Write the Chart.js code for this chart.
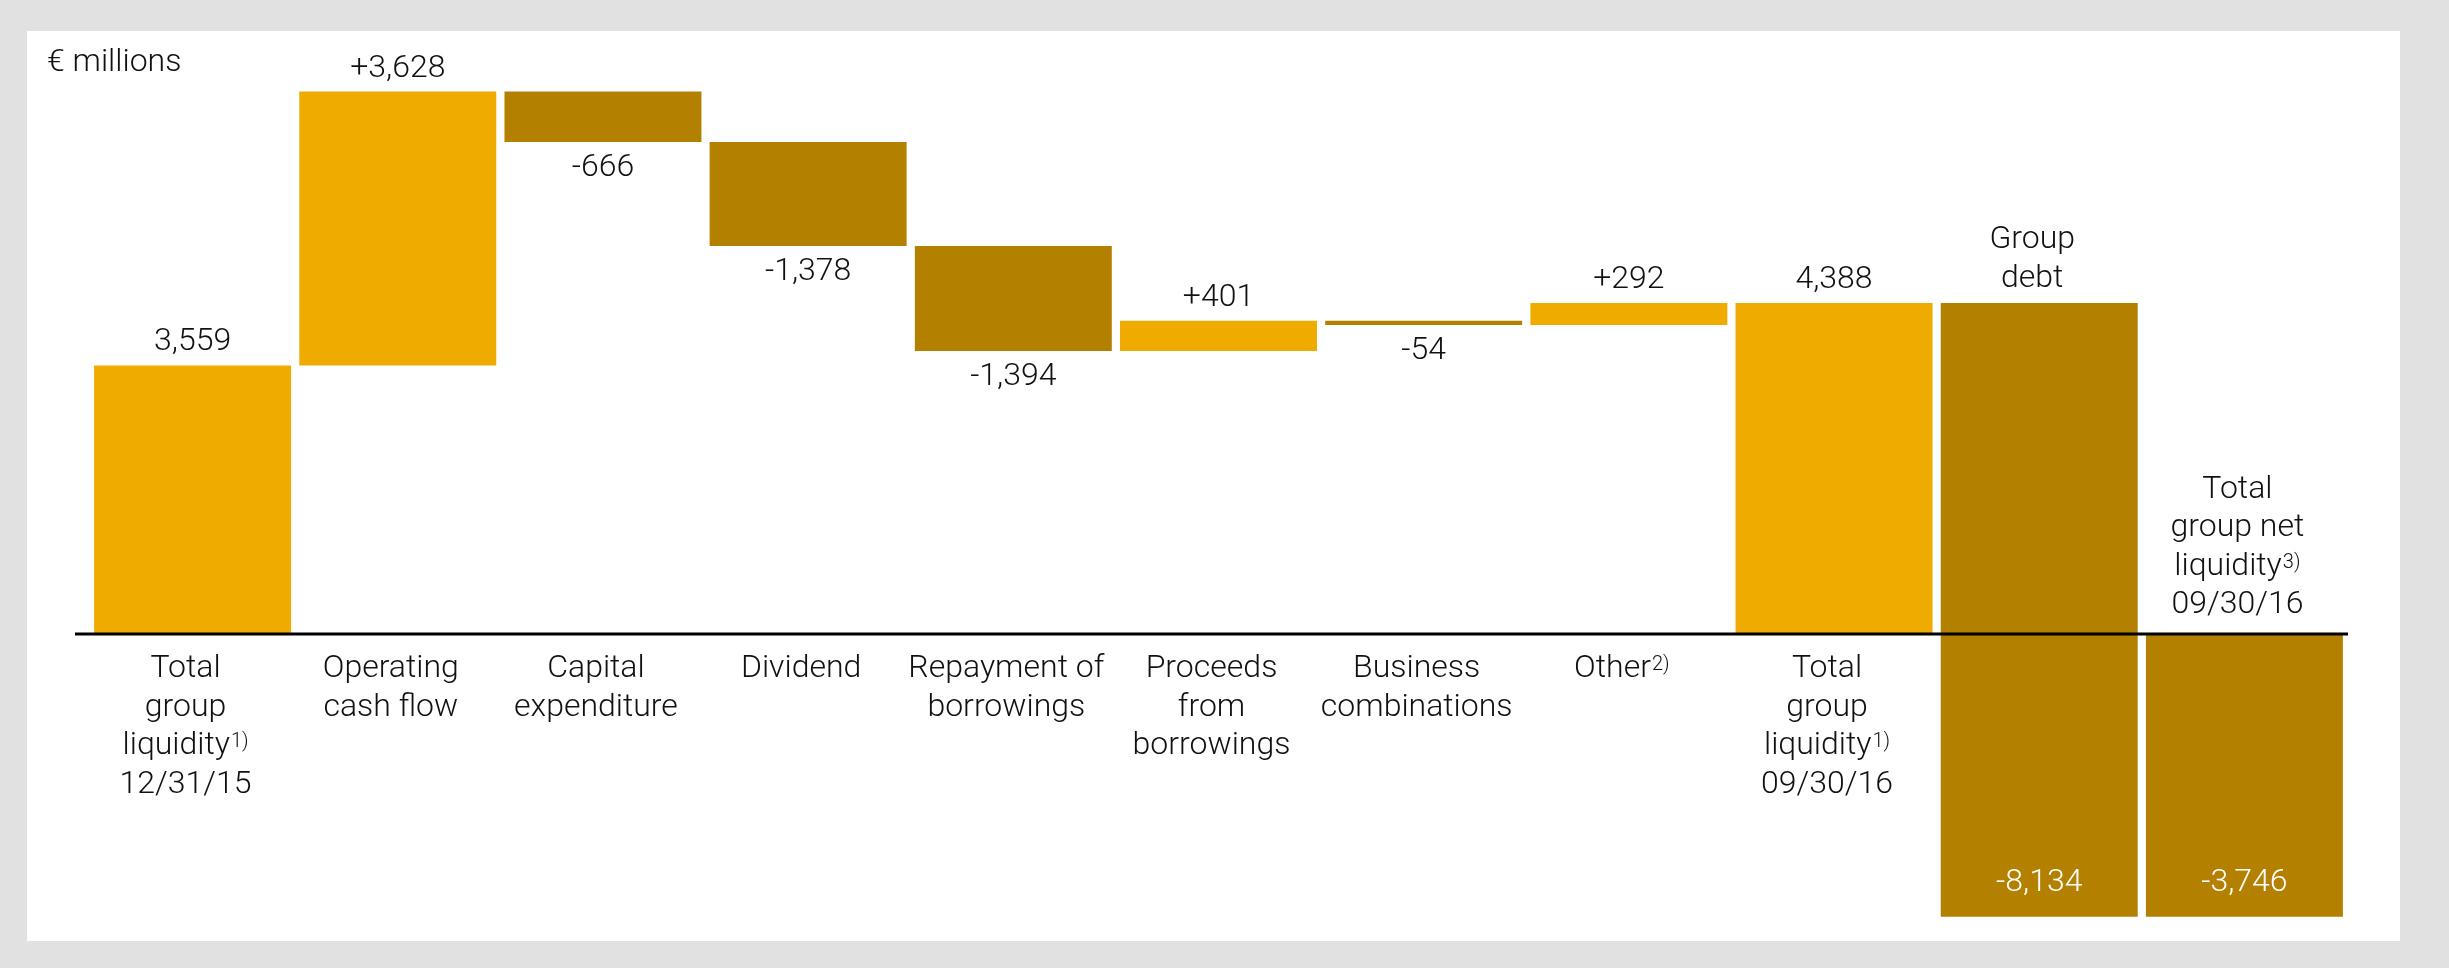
<!DOCTYPE html>
<html>
<head>
<meta charset="utf-8">
<script src="https://cdn.jsdelivr.net/npm/chart.js@4.4.0/dist/chart.umd.min.js"></script>
<style>
  html, body { margin: 0; padding: 0; background: #e1e1e1; }
  #panel { position: absolute; left: 27px; top: 31px; width: 2373px; height: 910px; background: #fff; }
</style>
</head>
<body>
<div id="panel"><canvas id="myChart" width="2373" height="910"></canvas></div>
<script>
// category labels, lines split; "^" starts a superscript
const categories = [
    ['Total', 'group', 'liquidity^1)', '12/31/15'],
    ['Operating', 'cash flow'],
    ['Capital', 'expenditure'],
    ['Dividend'],
    ['Repayment of', 'borrowings'],
    ['Proceeds', 'from', 'borrowings'],
    ['Business', 'combinations'],
    ['Other^2)'],
    ['Total', 'group', 'liquidity^1)', '09/30/16'],
    ['Group', 'debt'],
    ['Total', 'group net', 'liquidity^3)', '09/30/16']
];
const values = [3559, 3628, -666, -1378, -1394, 401, -54, 292, 4388, -8134, -3746];
// total = bar from zero, delta/debt = bar from the running sum
const barKinds = ['total', 'delta', 'delta', 'delta', 'delta', 'delta', 'delta', 'delta', 'total', 'debt', 'total'];
const unitLabel = '€ millions';

const LIGHT = '#efab00';
const DARK = '#b48000';
const FONT = '300 32px Roboto, "Open Sans", sans-serif';
const SUP_FONT = '300 20px Roboto, "Open Sans", sans-serif';
const LINE_H = 38.5;

// build floating bar ranges
let running = 0;
const ranges = values.map((v, i) => {
    if (barKinds[i] === 'total') {
        running = v;
        return [0, v];
    }
    const start = running;
    running += v;
    return [start, running];
});

function fmt(v, kind) {
    const s = Math.abs(v).toLocaleString('en-US');
    if (v < 0) return '-' + s;
    return kind === 'delta' ? '+' + s : s;
}

function drawLine(ctx, text, cx, baseline) {
    const parts = text.split('^');
    ctx.font = FONT;
    const wBase = ctx.measureText(parts[0]).width;
    let wSup = 0;
    if (parts[1]) {
        ctx.font = SUP_FONT;
        wSup = ctx.measureText(parts[1]).width + 1;
    }
    const left = cx - (wBase + wSup) / 2;
    ctx.textAlign = 'left';
    ctx.font = FONT;
    ctx.fillText(parts[0], left, baseline);
    if (parts[1]) {
        ctx.font = SUP_FONT;
        ctx.fillText(parts[1], left + wBase + 1, baseline - 7);
    }
}

const waterfallText = {
    id: 'waterfallText',
    afterDatasetsDraw(chart) {
        const { ctx, scales: { x, y } } = chart;
        const zeroY = y.getPixelForValue(0);
        ctx.save();

        // zero line
        ctx.strokeStyle = '#000';
        ctx.lineWidth = 3;
        ctx.beginPath();
        ctx.moveTo(x.left - 15, zeroY);
        ctx.lineTo(x.right + 1, zeroY);
        ctx.stroke();

        ctx.textBaseline = 'alphabetic';
        ctx.fillStyle = '#111';

        // unit
        ctx.font = FONT;
        ctx.textAlign = 'left';
        ctx.fillText(unitLabel, 20, 40);

        values.forEach((v, i) => {
            const cx = x.getPixelForValue(i);
            const [a, b] = ranges[i];
            const top = y.getPixelForValue(Math.max(a, b));
            const bottom = y.getPixelForValue(Math.min(a, b));
            const kind = barKinds[i];
            const text = fmt(v, kind);

            // value labels
            ctx.font = FONT;
            ctx.textAlign = 'center';
            if (v >= 0) {
                ctx.fillStyle = '#111';
                ctx.fillText(text, cx, top - 15);
            } else if (kind === 'delta') {
                ctx.fillStyle = '#111';
                ctx.fillText(text, cx, bottom + 34);
            } else {
                ctx.fillStyle = '#fff';
                ctx.fillText(text, cx, bottom - 26);
            }

            // category labels
            ctx.fillStyle = '#111';
            const lines = categories[i];
            const lx = cx - 7;
            if (kind === 'debt') {
                const last = top - 16;
                lines.forEach((l, j) => drawLine(ctx, l, lx, last - (lines.length - 1 - j) * LINE_H));
            } else if (kind === 'total' && v < 0) {
                const last = zeroY - 21;
                lines.forEach((l, j) => drawLine(ctx, l, lx, last - (lines.length - 1 - j) * LINE_H));
            } else {
                lines.forEach((l, j) => drawLine(ctx, l, lx, zeroY + 43 + j * LINE_H));
            }
        });
        ctx.restore();
    }
};

const ctx = document.getElementById('myChart').getContext('2d');
new Chart(ctx, {
    type: 'bar',
    data: {
        labels: categories.map(c => c.join(' ')),
        datasets: [{
            data: ranges,
            backgroundColor: values.map(v => v < 0 ? DARK : LIGHT),
            borderWidth: 0,
            barPercentage: 0.96,
            categoryPercentage: 1
        }]
    },
    options: {
        responsive: false,
        animation: false,
        devicePixelRatio: 1,
        layout: { padding: { left: 63, right: 53, top: 37, bottom: 5 } },
        plugins: {
            legend: { display: false },
            tooltip: { enabled: false }
        },
        scales: {
            x: { display: false },
            y: { display: false, min: -4000, max: 7500 }
        }
    },
    plugins: [waterfallText]
});
</script>
</body>
</html>
